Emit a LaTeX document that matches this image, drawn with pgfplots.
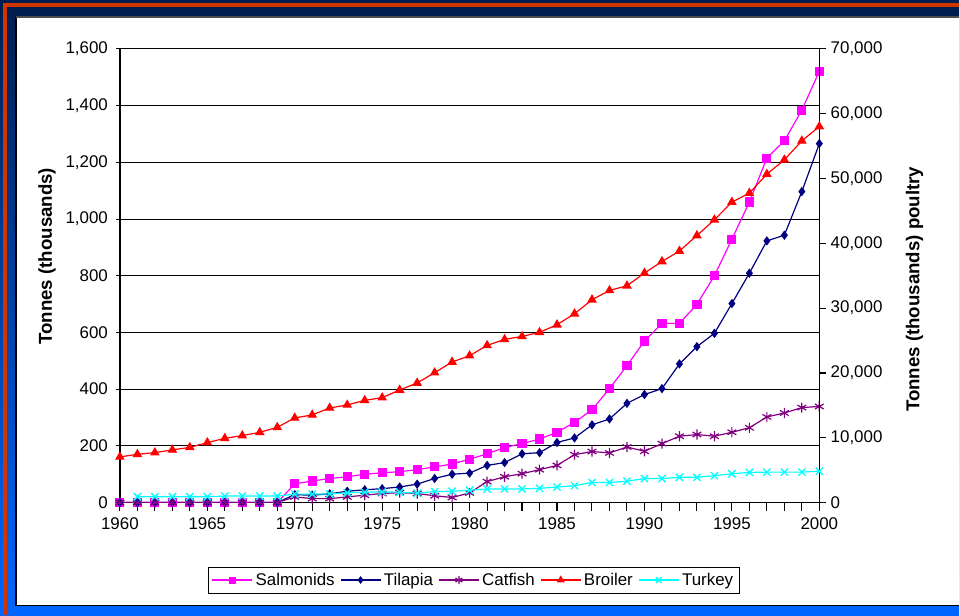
\documentclass[border=0pt]{standalone}
\usepackage{pgfplots}
\pgfplotsset{compat=1.18}
\usepackage{fontspec}
\setmainfont{Liberation Sans}
\definecolor{framenavy}{RGB}{0,30,78}
\definecolor{framered}{RGB}{208,52,0}
\definecolor{frameblue}{RGB}{0,102,255}
\definecolor{salm}{RGB}{255,0,255}
\definecolor{tilap}{RGB}{0,0,128}
\definecolor{catf}{RGB}{128,0,128}
\definecolor{broil}{RGB}{255,0,0}
\definecolor{turk}{RGB}{0,255,255}
\begin{document}
\begin{tikzpicture}
\begin{scope}[x=0.75pt,y=0.75pt]
\shade[top color=framenavy, bottom color=frameblue] (0,0) rectangle (960,616);
\fill[framenavy] (0,599) rectangle (960,616);
\fill[frameblue] (0,0) rectangle (960,10);
\fill[framered] (3,609) rectangle (960,613);
\fill[framered] (3,0) rectangle (7,613);
\fill[white] (16,10) rectangle (960,599);
\draw[black, line width=1.2pt] (16,599) -- (16,10) -- (960,10);
\draw[gray!60!black, line width=0.8pt] (16,599) -- (960,599);
\end{scope}

\pgfplotsset{
  mybase/.style={
    scale only axis,
    width=525pt, height=340.5pt,
    at={(90pt,84.75pt)}, anchor=south west,
    xmin=1960, xmax=2000,
    ymin=0,
    tick label style={font=\fontsize{12.7}{14}\selectfont},
    label style={font=\bfseries\fontsize{14}{16}\selectfont},
    /pgf/number format/assume math mode=true,
    /pgf/number format/1000 sep={,},
    scaled y ticks=false,
    axis line style={black, line width=1pt},
    tick style={black, line width=0.8pt},
  },
  salmstyle/.style={salm, line width=0.9pt, mark=square*, mark size=3pt, mark options={solid, fill=salm}},
  tilstyle/.style={tilap, line width=0.9pt, mark=diamond*, mark size=2.8pt, mark options={solid, fill=tilap}},
  catstyle/.style={catf, line width=0.9pt, mark=asterisk, mark size=3.8pt, mark options={solid, line width=0.9pt}},
  broilstyle/.style={broil, line width=0.9pt, mark=triangle*, mark size=3.3pt, mark options={solid, fill=broil}},
  turkstyle/.style={turk, line width=0.9pt, mark=x, mark size=3.8pt, mark options={solid, line width=1pt}},
}

% left axis (fish)
\begin{axis}[mybase,
  ymax=1600,
  ytick={0,200,...,1600},
  ymajorgrids, major grid style={black, line width=0.8pt},
  axis y line*=left,
  axis x line*=bottom,
  xtick={1960,1965,...,2000},
  minor xtick={1961,1962,...,1999},
  minor tick style={black, line width=0.8pt},
  xticklabel style={/pgf/number format/1000 sep=},
  x tick label style={yshift=-2pt},
  y tick label style={xshift=-2.5pt},
  xtick align=outside,
  ytick align=center,
  major tick length=6pt, minor tick length=6pt,
  ylabel={Tonnes (thousands)},
  ylabel style={at={(axis description cs:-0.104,0.543)}, anchor=center},
]
\addplot[salmstyle, forget plot] coordinates {
(1960,0)(1961,0)(1962,0)(1963,0)(1964,0)(1965,0)(1966,0)(1967,0)(1968,0)(1969,0)
(1970,66)(1971,76)(1972,85)(1973,91)(1974,100)(1975,105)(1976,109)(1977,116)(1978,126)(1979,136)
(1980,153)(1981,172)(1982,194)(1983,208)(1984,224)(1985,248)(1986,283)(1987,327)(1988,402)(1989,483)
(1990,570)(1991,632)(1992,632)(1993,699)(1994,800)(1995,929)(1996,1060)(1997,1215)(1998,1276)(1999,1384)
(2000,1521)};
\addplot[tilstyle, forget plot] coordinates {
(1960,0)(1961,0)(1962,0)(1963,0)(1964,0)(1965,0)(1966,0)(1967,0)(1968,0)(1969,0)
(1970,28)(1971,26)(1972,31)(1973,40)(1974,45)(1975,49)(1976,55)(1977,65)(1978,85)(1979,100)
(1980,104)(1981,131)(1982,141)(1983,172)(1984,176)(1985,212)(1986,228)(1987,274)(1988,295)(1989,350)
(1990,381)(1991,402)(1992,489)(1993,550)(1994,597)(1995,702)(1996,809)(1997,923)(1998,943)(1999,1097)
(2000,1266)};
\addplot[catstyle, forget plot] coordinates {
(1960,0)(1961,0)(1962,0)(1963,0)(1964,0)(1965,0)(1966,0)(1967,0)(1968,0)(1969,0)
(1970,20)(1971,14)(1972,14)(1973,20)(1974,26)(1975,32)(1976,35)(1977,32)(1978,24)(1979,18)
(1980,34)(1981,74)(1982,91)(1983,102)(1984,116)(1985,131)(1986,169)(1987,180)(1988,175)(1989,196)
(1990,181)(1991,208)(1992,234)(1993,240)(1994,234)(1995,248)(1996,264)(1997,302)(1998,316)(1999,335)
(2000,339)};
\end{axis}

% right axis (poultry)
\begin{axis}[mybase,
  ymax=70000,
  ytick={0,10000,...,70000},
  axis y line*=right,
  axis x line=none,
  ytick align=outside,
  major tick length=5pt,
  ylabel={Tonnes (thousands) poultry},
  ylabel style={at={(axis description cs:1.136,0.47)}, anchor=center, rotate=0},
  legend columns=-1,
  legend style={at={(0.506,-0.141)}, anchor=north, draw=black, line width=0.6pt,
    font=\fontsize{12.7}{14}\selectfont, inner sep=2.5pt,
    /tikz/every even column/.append style={column sep=2pt},
    /tikz/every odd column/.append style={column sep=0pt}},
  legend image code/.code={\draw[mark repeat=2,mark phase=2] plot coordinates {(0pt,0pt) (15pt,0pt) (30pt,0pt)};},
]
\addlegendimage{salmstyle, mark size=2.2pt}
\addlegendentry{Salmonids}
\addlegendimage{tilstyle, mark size=2.2pt}
\addlegendentry{Tilapia}
\addlegendimage{catstyle, mark size=3pt}
\addlegendentry{Catfish}
\addlegendimage{broilstyle, mark size=2.6pt}
\addlegendentry{Broiler}
\addlegendimage{turkstyle, mark size=3pt}
\addlegendentry{Turkey}
\addplot[broilstyle, forget plot] coordinates {
(1960,7047)(1961,7448)(1962,7710)(1963,8126)(1964,8527)(1965,9251)(1966,9915)(1967,10331)(1968,10840)(1969,11611)
(1970,13060)(1971,13523)(1972,14602)(1973,15065)(1974,15774)(1975,16190)(1976,17377)(1977,18457)(1978,20045)(1979,21695)
(1980,22666)(1981,24254)(1982,25179)(1983,25642)(1984,26259)(1985,27446)(1986,29142)(1987,31301)(1988,32735)(1989,33459)
(1990,35418)(1991,37206)(1992,38810)(1993,41215)(1994,43636)(1995,46365)(1996,47753)(1997,50683)(1998,52887)(1999,55817)
(2000,58022)};
\addplot[turkstyle, forget plot] coordinates {
(1961,900)(1962,900)(1963,900)(1964,900)(1965,900)(1966,1000)(1967,1000)(1968,1000)(1969,1000)
(1970,1300)(1971,1300)(1972,1350)(1973,1500)(1974,1600)(1975,1650)(1976,1600)(1977,1450)(1978,1700)(1979,1750)
(1980,1900)(1981,2100)(1982,2100)(1983,2100)(1984,2200)(1985,2400)(1986,2600)(1987,3100)(1988,3100)(1989,3300)
(1990,3700)(1991,3700)(1992,3900)(1993,3900)(1994,4150)(1995,4450)(1996,4650)(1997,4700)(1998,4700)(1999,4700)
(2000,4850)};
\end{axis}
\end{tikzpicture}
\end{document}
